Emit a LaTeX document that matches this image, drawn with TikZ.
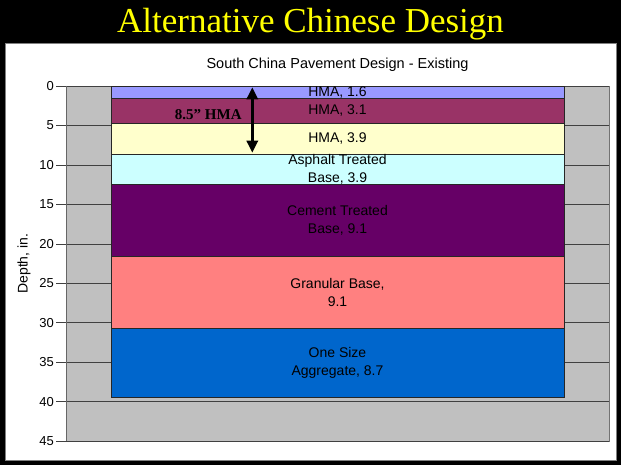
\documentclass[tikz,border=0pt]{standalone}
\usepackage{fontspec}
\setmainfont{Liberation Sans}
\newfontfamily\titlefont{Liberation Serif}
\usetikzlibrary{arrows.meta, positioning}
\definecolor{hmaBlue}{HTML}{9999FF}
\definecolor{hmaPlum}{HTML}{993366}
\definecolor{hmaCream}{HTML}{FFFFCC}
\definecolor{atbCyan}{HTML}{CCFFFF}
\definecolor{ctbPurple}{HTML}{660066}
\definecolor{gbSalmon}{HTML}{FF8080}
\definecolor{osaBlue}{HTML}{0066CC}
\definecolor{plotGray}{HTML}{C0C0C0}
\definecolor{titleYellow}{HTML}{FFFF00}
% depth (in.) -> vertical position
\newcommand{\depthy}[1]{86+7.896*#1}

\begin{document}
\begin{tikzpicture}[
    x=1pt, y=-1pt,
    layer/.style={draw=black!85, line width=0.8pt, minimum width=453pt, inner sep=0pt, align=center, font=\fontsize{14}{18}\selectfont},
    ticklbl/.style={anchor=east, inner sep=0pt, font=\fontsize{13}{15}\selectfont},
    gridline/.style={draw=black!75, line width=0.8pt},
    arrow/.style={{Triangle[width=11pt,length=12pt]}-{Triangle[width=11pt,length=12pt]}, line width=3pt},
]
    % Slide background
    \fill[black] (0,0) rectangle (621,465);
    \useasboundingbox (0,0) rectangle (621,465);
    \filldraw[fill=white, draw=black!50] (5,43) rectangle (616,460);

    % Titles
    \node[anchor=base, text=titleYellow, font=\titlefont\fontsize{35}{40}\selectfont] (title) at (310.5,33) {Alternative Chinese Design};
    \node[anchor=base, font=\fontsize{14.5}{17}\selectfont] (subtitle) at (337.5,68.3) {South China Pavement Design - Existing};

    % Plot area
    \filldraw[fill=plotGray, draw=black!55, line width=0.8pt] (66.7,86) rectangle (609.3,441.3);
    \foreach \d in {0,5,...,45} {
        \draw[gridline] (56,{\depthy{\d}}) -- (609.3,{\depthy{\d}});
        \node[ticklbl] (tick\d) at (54,{\depthy{\d}}) {\d};
    }
    \draw[black!60, line width=0.8pt] (66.7,86) -- (66.7,441.3);
    \node[rotate=90, font=\fontsize{14}{17}\selectfont] (ylabel) at (24,263.7) {Depth, in.};

    % Layers
    \node[layer, fill=hmaBlue, minimum height=1.6*7.896pt] (hma1) at (337.5,{\depthy{0.8}}) {HMA, 1.6};
    \node[layer, fill=hmaPlum, minimum height=3.1*7.896pt] (hma2) at (337.5,{\depthy{3.15}}) {HMA, 3.1};
    \node[layer, fill=hmaCream, minimum height=3.9*7.896pt] (hma3) at (337.5,{\depthy{6.65}}) {HMA, 3.9};
    \node[layer, fill=atbCyan, minimum height=3.9*7.896pt] (atb) at (337.5,{\depthy{10.55}}) {Asphalt Treated\\Base, 3.9};
    \node[layer, fill=ctbPurple, minimum height=9.1*7.896pt] (ctb) at (337.5,{\depthy{17.05}}) {Cement Treated\\Base, 9.1};
    \node[layer, fill=gbSalmon, minimum height=9.1*7.896pt] (gb) at (337.5,{\depthy{26.15}}) {Granular Base,\\9.1};
    \node[layer, fill=osaBlue, minimum height=8.7*7.896pt] (osa) at (337.5,{\depthy{35.05}}) {One Size\\Aggregate, 8.7};

    % Total HMA thickness
    \coordinate (hmaTop) at (252.3,87.3);
    \coordinate (hmaBot) at (252.3,152.7);
    \draw[arrow] (hmaTop) -- (hmaBot);
    \node[font=\titlefont\bfseries\fontsize{15}{18}\selectfont] (hmaLbl) at (208.3,114.3) {8.5” HMA};
\end{tikzpicture}
\end{document}
